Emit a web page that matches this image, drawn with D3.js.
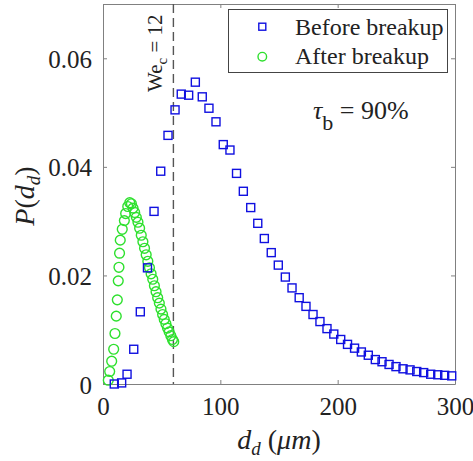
<!DOCTYPE html>
<html>
<head>
<meta charset="utf-8">
<script src="https://cdn.jsdelivr.net/npm/d3@7"></script>
<style>
  html, body { margin: 0; padding: 0; background: #fff; }
  svg { display: block; }
</style>
</head>
<body>
<svg id="chart" width="473" height="461"></svg>
<script>
// ---- data ----
const xTicks = [0, 100, 200, 300];
const yTicks = [0, 0.02, 0.04, 0.06];
const yTickLabels = ["0", "0.02", "0.04", "0.06"];
const xTickLabels = ["0", "100", "200", "300"];

const beforeX = [9.6, 15.9, 20.5, 26.2, 31.8, 37.9, 43.5, 49.2, 55.4, 61.4,
  66.7, 73.0, 78.7, 84.6, 90.3, 96.3, 102.5, 108.2, 113.8, 119.6,
  125.9, 131.9, 137.5, 143.4, 149.4, 155.4, 161.1, 167.2, 173.0, 179.0,
  184.9, 190.9, 196.7, 202.6, 208.4, 214.4, 220.2, 226.1, 232.1, 237.8,
  243.8, 249.7, 255.7, 261.7, 267.4, 273.3, 279.3, 285.3, 291.2, 297.2];
const beforeY = [0.0000, 0.0002, 0.0018, 0.0064, 0.0133, 0.0214, 0.0318, 0.0392, 0.0458, 0.0505,
  0.0534, 0.0532, 0.0556, 0.0529, 0.0508, 0.0483, 0.0441, 0.0431, 0.0388, 0.0355,
  0.0325, 0.0296, 0.0268, 0.0242, 0.0219, 0.0197, 0.0177, 0.0159, 0.0143, 0.0128,
  0.0115, 0.0102, 0.0092, 0.0082, 0.0073, 0.0066, 0.0059, 0.0053, 0.0045, 0.0041,
  0.0036, 0.0032, 0.0028, 0.0026, 0.0023, 0.0021, 0.0018, 0.0017, 0.0016, 0.0015];

const afterX = [4.5, 5.7, 7.4, 9.1, 10.2, 11.3, 12.2, 13.0, 13.6, 14.1,
  14.7, 16.4, 18.2, 19.3, 21.1, 22.8, 24.2, 25.6, 27.0, 28.4,
  29.8, 31.2, 32.6, 34.0, 35.4, 36.8, 38.2, 39.6, 41.0, 42.4,
  43.8, 45.2, 46.6, 48.0, 49.4, 50.8, 52.2, 53.6, 55.0, 56.4,
  57.8, 59.2, 60.3];
const afterY = [0.0007, 0.0023, 0.0042, 0.0064, 0.0093, 0.0125, 0.0155, 0.0190, 0.0215, 0.0241,
  0.0265, 0.0285, 0.0301, 0.0314, 0.0327, 0.0334, 0.0332, 0.0324, 0.0316, 0.0307,
  0.0298, 0.0287, 0.0274, 0.0262, 0.0250, 0.0238, 0.0226, 0.0214, 0.0203, 0.0193,
  0.0181, 0.0170, 0.0159, 0.0149, 0.0138, 0.0128, 0.0119, 0.0111, 0.0103, 0.0096,
  0.0089, 0.0082, 0.0078];

const critX = 60;
const seriesNames = ["Before breakup", "After breakup"];

// ---- layout ----
const FONT = "Liberation Serif";
const svg = d3.select("#chart");
const L = 103, T = 4, R = 455, B = 384;
const x = d3.scaleLinear().domain([0, 300]).range([L, R]);
const y = d3.scaleLinear().domain([0, 0.07]).range([B, T]);
const axisColor = "#808080";
const blue = "#1010e0";
const green = "#2ee02e";
const txt = (sel) => sel.attr("font-family", FONT).attr("fill", "#222");

svg.append("rect").attr("width", 473).attr("height", 461).attr("fill", "#fff");

// axes (box with mirrored inward ticks)
const gx = svg.append("g").attr("transform", `translate(0,${B})`)
  .call(d3.axisBottom(x).tickValues(xTicks).tickSizeInner(-4).tickSizeOuter(0)
    .tickFormat((d, i) => xTickLabels[i]).tickPadding(13));
const gxt = svg.append("g").attr("transform", `translate(0,${T})`)
  .call(d3.axisTop(x).tickValues(xTicks).tickSizeInner(-4).tickSizeOuter(0).tickFormat(""));
const gy = svg.append("g").attr("transform", `translate(${L},0)`)
  .call(d3.axisLeft(y).tickValues(yTicks).tickSizeInner(-4).tickSizeOuter(0)
    .tickFormat((d, i) => yTickLabels[i]).tickPadding(11));
const gyr = svg.append("g").attr("transform", `translate(${R},0)`)
  .call(d3.axisRight(y).tickValues(yTicks).tickSizeInner(-4).tickSizeOuter(0).tickFormat(""));
[gx, gxt, gy, gyr].forEach(g => {
  g.attr("font-family", FONT).attr("font-size", 25);
  g.selectAll("path").attr("stroke", axisColor).attr("stroke-width", 1);
  g.selectAll("line").attr("stroke", axisColor).attr("stroke-width", 1);
  g.selectAll("text").call(txt).attr("font-size", 25);
});
gx.selectAll("text").attr("dy", "0.71em");
gy.selectAll("text").attr("dy", "0.36em");

// dashed critical line
svg.append("line")
  .attr("x1", x(critX)).attr("x2", x(critX))
  .attr("y1", T).attr("y2", B)
  .attr("stroke", "#555").attr("stroke-width", 1.4)
  .attr("stroke-dasharray", "9,5");

// We_c label
const we = svg.append("text")
  .attr("transform", `translate(${x(critX) - 11},92) rotate(-90)`)
  .call(txt).attr("font-size", 21);
we.append("tspan").text("We");
we.append("tspan").attr("dy", 5).attr("font-size", 15).text("c");
we.append("tspan").attr("dy", -5).text(" = 12");

// green circles (after)
svg.append("g").selectAll("circle")
  .data(afterX.map((d, i) => [d, afterY[i]]))
  .join("circle")
  .attr("cx", d => x(d[0])).attr("cy", d => y(d[1])).attr("r", 4.9)
  .attr("fill", "none").attr("stroke", green).attr("stroke-width", 1.4);

// blue squares (before)
const s = 8;
svg.append("g").selectAll("rect")
  .data(beforeX.map((d, i) => [d, beforeY[i]]))
  .join("rect")
  .attr("x", d => x(d[0]) - s / 2).attr("y", d => y(d[1]) - s / 2)
  .attr("width", s).attr("height", s)
  .attr("fill", "none").attr("stroke", blue).attr("stroke-width", 1.4);

// legend
const lg = svg.append("g");
lg.append("rect").attr("x", 228.5).attr("y", 9.5).attr("width", 219).attr("height", 63)
  .attr("fill", "#fff").attr("stroke", "#444").attr("stroke-width", 1);
lg.append("rect").attr("x", 262.3 - 3.5).attr("y", 26.7 - 3.5).attr("width", 7).attr("height", 7)
  .attr("fill", "none").attr("stroke", blue).attr("stroke-width", 1.4);
lg.append("circle").attr("cx", 262.3).attr("cy", 56.7).attr("r", 4.3)
  .attr("fill", "none").attr("stroke", green).attr("stroke-width", 1.4);
lg.append("text").attr("x", 295).attr("y", 34.5).call(txt).attr("font-size", 24).text(seriesNames[0]);
lg.append("text").attr("x", 295).attr("y", 64).call(txt).attr("font-size", 24).text(seriesNames[1]);

// tau annotation
const tau = svg.append("text").attr("x", 313).attr("y", 119).call(txt).attr("font-size", 26);
tau.append("tspan").attr("font-style", "italic").text("τ");
tau.append("tspan").attr("dy", 11).attr("font-size", 22).text("b");
tau.append("tspan").attr("dy", -11).text(" = 90%");

// axis titles
const xl = svg.append("text").attr("x", (L + R) / 2).attr("y", 449)
  .attr("text-anchor", "middle").call(txt).attr("font-size", 28);
xl.append("tspan").attr("font-style", "italic").text("d");
xl.append("tspan").attr("dy", 6).attr("font-size", 19).attr("font-style", "italic").text("d");
xl.append("tspan").attr("dy", -6).text(" (");
xl.append("tspan").attr("font-style", "italic").text("μm");
xl.append("tspan").text(")");

const yl = svg.append("text").attr("transform", `translate(34,196) rotate(-90)`)
  .attr("text-anchor", "middle").call(txt).attr("font-size", 28);
yl.append("tspan").attr("font-style", "italic").text("P");
yl.append("tspan").text("(");
yl.append("tspan").attr("font-style", "italic").text("d");
yl.append("tspan").attr("dy", 6).attr("font-size", 19).attr("font-style", "italic").text("d");
yl.append("tspan").attr("dy", -6).text(")");
</script>
</body>
</html>
